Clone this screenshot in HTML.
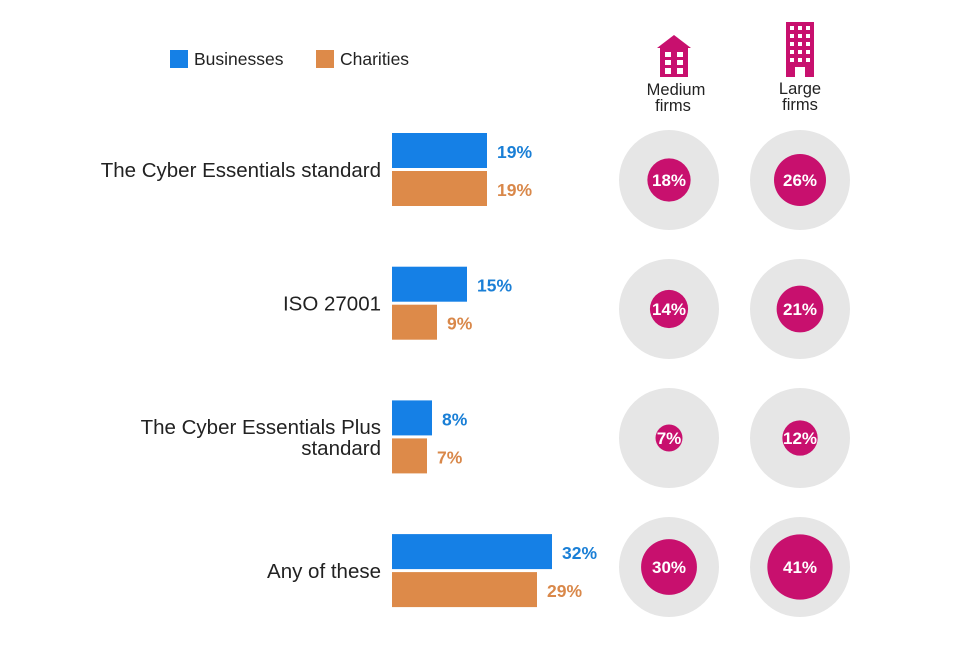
<!DOCTYPE html>
<html><head><meta charset="utf-8"><style>
body{margin:0;background:#fff;font-family:"Liberation Sans",Arial,sans-serif}
svg text{font-family:"Liberation Sans",Arial,sans-serif}
</style></head><body>
<svg id="c" width="960" height="640">
<g>
<rect x="170" y="50" width="18" height="18" fill="#1580e6"/>
<text x="194" y="65" font-size="17.5" fill="#222">Businesses</text>
<rect x="316" y="50" width="18" height="18" fill="#dd8a49"/>
<text x="340" y="65" font-size="17.5" fill="#222">Charities</text>
</g>
<g fill="#c8106e">
<polygon points="657,48 674,35 691,48"/>
<rect x="660" y="47" width="28" height="30"/>
<g fill="#fff"><rect x="665" y="52" width="6" height="5"/><rect x="677" y="52" width="6" height="5"/><rect x="665" y="60" width="6" height="5"/><rect x="677" y="60" width="6" height="5"/><rect x="665" y="68" width="6" height="6"/><rect x="677" y="68" width="6" height="6"/></g>
</g>
<g fill="#c8106e">
<rect x="786" y="22" width="28" height="55"/>
<g fill="#fff"><rect x="790" y="26" width="4" height="4"/><rect x="798" y="26" width="4" height="4"/><rect x="806" y="26" width="4" height="4"/><rect x="790" y="34" width="4" height="4"/><rect x="798" y="34" width="4" height="4"/><rect x="806" y="34" width="4" height="4"/><rect x="790" y="42" width="4" height="4"/><rect x="798" y="42" width="4" height="4"/><rect x="806" y="42" width="4" height="4"/><rect x="790" y="50" width="4" height="4"/><rect x="798" y="50" width="4" height="4"/><rect x="806" y="50" width="4" height="4"/><rect x="790" y="58" width="4" height="4"/><rect x="798" y="58" width="4" height="4"/><rect x="806" y="58" width="4" height="4"/><rect x="795" y="67" width="10" height="10"/></g>
</g>
<text x="675" y="95" font-size="16.5" text-anchor="middle" fill="#222"><tspan x="676">Medium</tspan><tspan x="673" dy="16">firms</tspan></text>
<text x="800" y="94" font-size="16.5" text-anchor="middle" fill="#222"><tspan x="800">Large</tspan><tspan x="800" dy="16">firms</tspan></text>
<g id="plot"></g>
</svg>
<script>
const categories=[["The Cyber Essentials standard"],["ISO 27001"],["The Cyber Essentials Plus","standard"],["Any of these"]];
const businesses=[19,15,8,32];
const charities=[19,9,7,29];
const mediumFirms=[18,14,7,30];
const largeFirms=[26,21,12,41];
const NS="http://www.w3.org/2000/svg";
const g=document.getElementById('plot');
const x0=392, pxPer=5;
const xScale=v=>v*pxPer;
const rowY=i=>133+i*133.7;
const circY=i=>180+i*129;
const rScale=v=>5.1*Math.sqrt(v);
function mk(t,a){const e=document.createElementNS(NS,t);for(const k in a)e.setAttribute(k,a[k]);g.appendChild(e);return e;}
categories.forEach((cat,i)=>{
  const y=rowY(i);
  const mid=y+37;
  const lines=cat.length;
  cat.forEach((l,j)=>{
    const t=mk('text',{x:381,y:mid+7+(j-(lines-1)/2)*21,'font-size':20.5,'text-anchor':'end',fill:'#222'});
    t.textContent=l;
    
    
  });
  const b=mk('rect',{x:x0,y:y,width:xScale(businesses[i]),height:35,fill:'#1580e6'});
  
  
  const bl=mk('text',{x:x0+xScale(businesses[i])+10,y:y+25,'font-size':17.5,'font-weight':'bold',fill:'#1a7fd6'});
  bl.textContent=businesses[i]+'%';
  
  
  const c=mk('rect',{x:x0,y:y+38,width:xScale(charities[i]),height:35,fill:'#dd8a49'});
  
  
  const cl=mk('text',{x:x0+xScale(charities[i])+10,y:y+63,'font-size':17.5,'font-weight':'bold',fill:'#d9884a'});
  cl.textContent=charities[i]+'%';
  
  
  [[669,mediumFirms[i],'medium'],[800,largeFirms[i],'large']].forEach(([cx,v,n])=>{
    const cy=circY(i);
    const bg=mk('circle',{cx:cx,cy:cy,r:50,fill:'#e6e6e6'});
    
    
    const fg=mk('circle',{cx:cx,cy:cy,r:rScale(v),fill:'#c8106e'});
    
    
    const t=mk('text',{x:cx,y:cy+6,'font-size':17,'font-weight':'bold','text-anchor':'middle',fill:'#fff'});
    t.textContent=v+'%';
    
    
  });
});
</script>
</body></html>
